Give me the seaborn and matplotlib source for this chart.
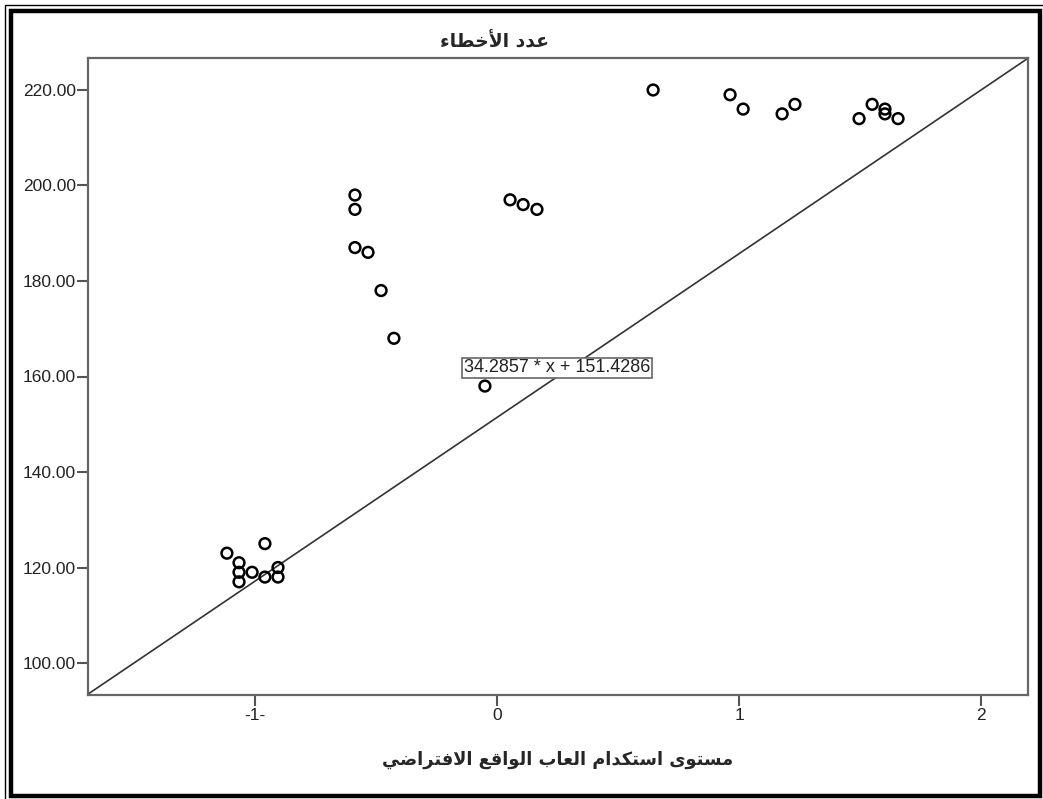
import numpy as np
import pandas as pd
import matplotlib
matplotlib.use("Agg")
import matplotlib.pyplot as plt
import seaborn as sns
from matplotlib.patches import Rectangle

# values
x_vals = [-1.116, -1.066, -1.066, -1.066, -1.012, -0.959, -0.959, -0.905, -0.905,
          -0.587, -0.587, -0.587, -0.533, -0.479, -0.426,
          0.054, 0.108, 0.165, -0.050,
          0.645, 0.963, 1.017, 1.178, 1.231,
          1.496, 1.550, 1.603, 1.603, 1.657]
y_vals = [123, 121, 119, 117, 119, 125, 118, 120, 118,
          198, 195, 187, 186, 178, 168,
          197, 196, 195, 158,
          220, 219, 216, 215, 217,
          214, 217, 216, 215, 214]
slope = 34.2857
intercept = 151.4286
x_ticks = [-1, 0, 1, 2]
x_ticklabels = ['-1-', '0', '1', '2']
y_ticks = [100, 120, 140, 160, 180, 200, 220]
title = "عدد الأخطاء"
xlabel = "مستوى استكدام العاب الواقع الافتراضي"

# --- tiny arabic shaper (matplotlib has no complex text shaping) ---
FORMS = {  # char: (isolated form codepoint, number of forms)
    'ء': (0xFE80, 1), 'آ': (0xFE81, 2), 'أ': (0xFE83, 2), 'إ': (0xFE87, 2),
    'ا': (0xFE8D, 2), 'ب': (0xFE8F, 4), 'ة': (0xFE93, 2), 'ت': (0xFE95, 4),
    'ث': (0xFE99, 4), 'ج': (0xFE9D, 4), 'ح': (0xFEA1, 4), 'خ': (0xFEA5, 4),
    'د': (0xFEA9, 2), 'ذ': (0xFEAB, 2), 'ر': (0xFEAD, 2), 'ز': (0xFEAF, 2),
    'س': (0xFEB1, 4), 'ش': (0xFEB5, 4), 'ص': (0xFEB9, 4), 'ض': (0xFEBD, 4),
    'ط': (0xFEC1, 4), 'ظ': (0xFEC5, 4), 'ع': (0xFEC9, 4), 'غ': (0xFECD, 4),
    'ف': (0xFED1, 4), 'ق': (0xFED5, 4), 'ك': (0xFED9, 4), 'ل': (0xFEDD, 4),
    'م': (0xFEE1, 4), 'ن': (0xFEE5, 4), 'ه': (0xFEE9, 4), 'و': (0xFEED, 2),
    'ى': (0xFEEF, 2), 'ي': (0xFEF1, 4),
}
LAM_ALEF = {'آ': 0xFEF5, 'أ': 0xFEF7, 'إ': 0xFEF9, 'ا': 0xFEFB}


def shape(text):
    # merge lam + alef into ligature tokens
    toks = []
    i = 0
    while i < len(text):
        c = text[i]
        if c == 'ل' and i + 1 < len(text) and text[i + 1] in LAM_ALEF:
            toks.append(('LA', LAM_ALEF[text[i + 1]]))
            i += 2
        else:
            toks.append(('C', c))
            i += 1

    def nforms(t):
        if t[0] == 'LA':
            return 2
        return FORMS.get(t[1], (0, 0))[1]

    out = []
    for k, t in enumerate(toks):
        n = nforms(t)
        if n == 0:
            out.append(t[1])
            continue
        base = t[1] if t[0] == 'LA' else FORMS[t[1]][0]
        prev_join = k > 0 and nforms(toks[k - 1]) == 4
        next_join = n == 4 and k + 1 < len(toks) and nforms(toks[k + 1]) >= 2
        if prev_join and next_join:
            cp = base + 3
        elif next_join:
            cp = base + 2
        elif prev_join:
            cp = base + 1
        else:
            cp = base
        out.append(chr(cp))
    return ''.join(out)[::-1]


sns.set_style("white")
plt.rcParams['font.family'] = ['Liberation Sans', 'DejaVu Sans']

df = pd.DataFrame({'x': x_vals, 'y': y_vals})

fig = plt.figure(figsize=(10.43, 7.99), dpi=100)
ax = fig.add_axes([88 / 1043, 1 - 695 / 799, (1028 - 88) / 1043, (695 - 58) / 799])

ax.axline((0, intercept), slope=slope, color='#333333', lw=1.2, zorder=1)
sns.scatterplot(data=df, x='x', y='y', ax=ax, marker='o', s=60,
                fc='none', ec='black', linewidth=1.8, zorder=3)

ax.set_xlim(-1.69, 2.194)
ax.set_ylim(93.3, 226.7)
ax.set_xticks(x_ticks)
ax.set_xticklabels(x_ticklabels)
ax.set_yticks(y_ticks)
ax.set_yticklabels([f"{v:.2f}" for v in y_ticks])
ax.tick_params(axis='both', direction='out', bottom=True, left=True, width=1.5,
               color='#555555', labelsize=12.5, labelcolor='#222222')
ax.tick_params(axis='y', length=8, pad=0.5)
ax.tick_params(axis='x', length=8, pad=1)
ax.set_xlabel('')
ax.set_ylabel('')
for sp in ax.spines.values():
    sp.set_color('#666666')
    sp.set_linewidth(1.6)

ax.text(0.248, 161.8, "34.2857 * x + 151.4286", ha='center', va='center',
        fontsize=13, color='#222222', zorder=4,
        bbox=dict(boxstyle='square,pad=0.08', fc='white', ec='#666666', lw=1.2))

fig.text(495 / 1043, 1 - 42 / 799, shape(title), ha='center', va='center',
         fontsize=13.5, fontweight='bold', family='DejaVu Sans')
fig.text(558 / 1043, 1 - 760 / 799, shape(xlabel), ha='center', va='center',
         fontsize=12.8, fontweight='bold', family='DejaVu Sans')

# outer frames
W, H = 1043, 799
fig.add_artist(Rectangle((5 / W, -0.05), 1.2, 1 - 5 / H + 0.05, transform=fig.transFigure,
                         fill=False, ec='black', lw=1.0))
fig.add_artist(Rectangle((11 / W, 3 / H), (1040 - 11) / W, (796 - 11) / H,
                         transform=fig.transFigure, fill=False, ec='black', lw=3.2))

fig.savefig('out.png', dpi=100)
